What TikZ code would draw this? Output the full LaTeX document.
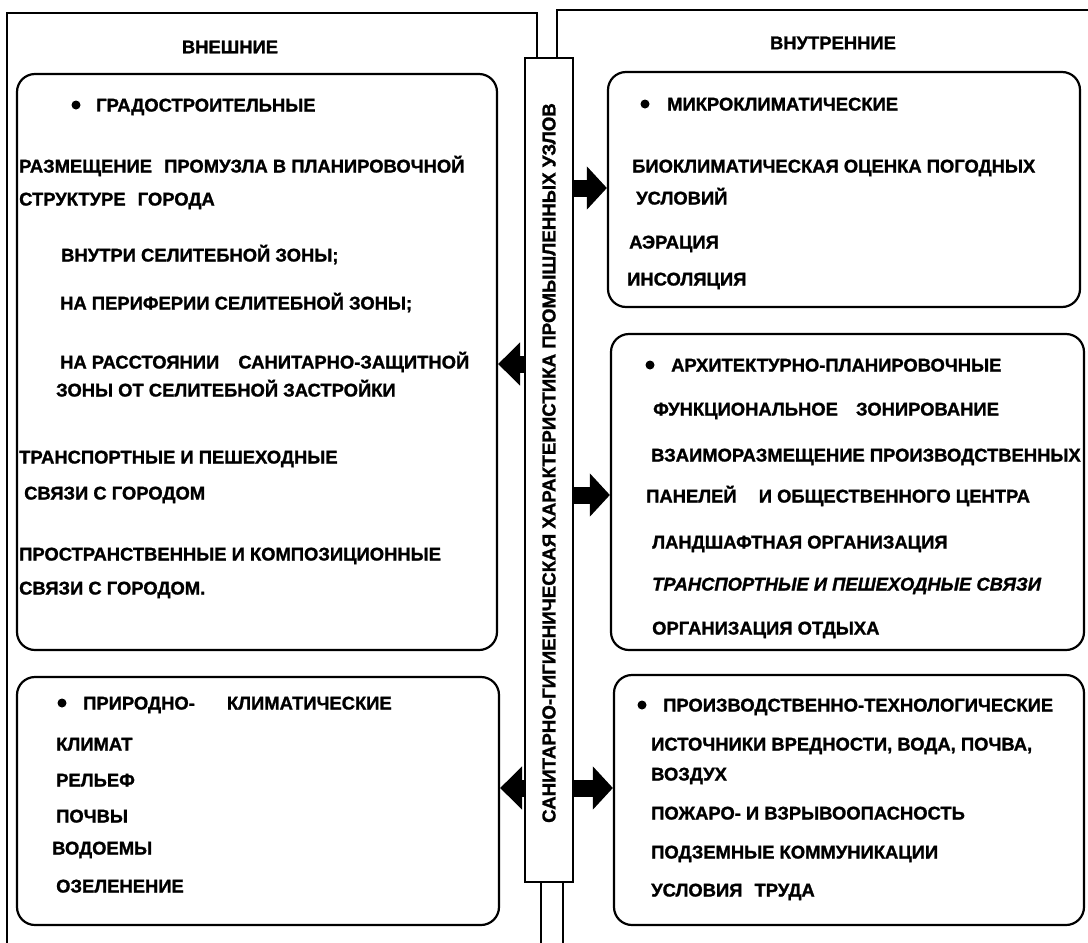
\documentclass[tikz,border=0pt]{standalone}
\usepackage{fontspec}
\setmainfont{Liberation Sans}[BoldFeatures={FakeBold=1.3},BoldItalicFeatures={FakeBold=1.3}]
\usetikzlibrary{arrows.meta}
\newcommand\tline[4]{\node[txt] (#1) at (#2,#3+6.5) {#4};}
\begin{document}
\begin{tikzpicture}[x=1pt,y=-1pt,
  frame/.style={line width=2pt, line join=miter},
  box/.style={draw, line width=2.2pt, rounded corners=18pt, inner sep=0pt},
  colbox/.style={draw, line width=2.6pt, inner sep=0pt},
  txt/.style={anchor=base west, inner sep=0pt, font=\fontsize{18.4}{20}\selectfont\bfseries},
  ttl/.style={anchor=center, inner sep=0pt, font=\fontsize{18.4}{20}\selectfont\bfseries},
  dot/.style={circle, fill, inner sep=0pt, minimum size=9pt},
  blk/.style={line width=17pt, line cap=butt, -{Triangle[length=20pt 0 0, width=42pt 0 0]}},
  blkl/.style={line width=17pt, line cap=butt, -{Triangle[length=22pt 0 0, width=42pt 0 0]}}
]
\useasboundingbox (0,0) rectangle (1088,943);

% outer frames
\draw[frame] (7,943) -- (7,13) -- (537,13) -- (537,58);
\draw[frame] (557,58) -- (557,10) -- (1088,10);
\draw[frame] (541,882) -- (541,943);
\draw[frame] (563,882) -- (563,943);

% central column
\node[colbox, minimum width=48pt, minimum height=824pt] (col) at (549,470) {};
\node[ttl, rotate=90, font=\fontsize{18.7}{20}\selectfont\bfseries] (coltext) at (549,463)
  {САНИТАРНО-ГИГИЕНИЧЕСКАЯ ХАРАКТЕРИСТИКА ПРОМЫШЛЕННЫХ УЗЛОВ};

% titles
\node[ttl] (tout) at (230,47) {ВНЕШНИЕ};
\node[ttl] (tin) at (833,43) {ВНУТРЕННИЕ};

% boxes
\node[box, minimum width=480pt, minimum height=576pt] (L1) at (257,362) {};
\node[box, minimum width=482pt, minimum height=248pt] (L2) at (258,801) {};
\node[box, minimum width=472pt, minimum height=235pt] (R1) at (844,189.5) {};
\node[box, minimum width=473pt, minimum height=316pt] (R2) at (847.5,492) {};
\node[box, minimum width=470pt, minimum height=250pt] (R3) at (849,800) {};

% arrows
\coordinate (a1) at (0,188);
\coordinate (a2) at (0,495);
\coordinate (a3) at (0,788);
\coordinate (a4) at (0,364);
\coordinate (a5) at (0,788);
\draw[blk] (col.east |- a1) -- (R1.west |- a1);
\draw[blk] (col.east |- a2) -- (R2.west |- a2);
\draw[blk] (col.east |- a3) -- (R3.west |- a3);
\draw[blkl] (col.west |- a4) -- (L1.east |- a4);
\draw[blkl] (col.west |- a5) -- (L2.east |- a5);

% L1 content
\node[dot] (d1) at (76,105) {};
\tline{l1h}{96}{105}{ГРАДОСТРОИТЕЛЬНЫЕ}
\tline{l1a}{19}{166}{РАЗМЕЩЕНИЕ\hspace{7pt} ПРОМУЗЛА В ПЛАНИРОВОЧНОЙ}
\tline{l1b}{19}{199}{СТРУКТУРЕ\hspace{7pt} ГОРОДА}
\tline{l1c}{61}{255}{ВНУТРИ СЕЛИТЕБНОЙ ЗОНЫ;}
\tline{l1d}{60}{303}{НА ПЕРИФЕРИИ СЕЛИТЕБНОЙ ЗОНЫ;}
\tline{l1e}{60}{362}{НА РАССТОЯНИИ\hspace{14pt} САНИТАРНО-ЗАЩИТНОЙ}
\tline{l1f}{56}{390}{ЗОНЫ ОТ СЕЛИТЕБНОЙ ЗАСТРОЙКИ}
\tline{l1g}{19}{457}{ТРАНСПОРТНЫЕ И ПЕШЕХОДНЫЕ}
\tline{l1i}{24}{493}{СВЯЗИ С ГОРОДОМ}
\tline{l1j}{19}{554}{ПРОСТРАНСТВЕННЫЕ И КОМПОЗИЦИОННЫЕ}
\tline{l1k}{19}{588}{СВЯЗИ С ГОРОДОМ.}

% L2 content
\node[dot] (d2) at (62,703) {};
\tline{l2h}{83}{703}{ПРИРОДНО-\hspace{27pt} КЛИМАТИЧЕСКИЕ}
\tline{l2a}{56}{744}{КЛИМАТ}
\tline{l2b}{56}{780}{РЕЛЬЕФ}
\tline{l2c}{56}{816}{ПОЧВЫ}
\tline{l2d}{52}{848}{ВОДОЕМЫ}
\tline{l2e}{56}{886}{ОЗЕЛЕНЕНИЕ}

% R1 content
\node[dot] (d3) at (645,104) {};
\tline{r1h}{667}{104}{МИКРОКЛИМАТИЧЕСКИЕ}
\tline{r1a}{632}{166}{БИОКЛИМАТИЧЕСКАЯ ОЦЕНКА ПОГОДНЫХ}
\tline{r1b}{636}{198}{УСЛОВИЙ}
\tline{r1c}{629}{242}{АЭРАЦИЯ}
\tline{r1d}{627}{279}{ИНСОЛЯЦИЯ}

% R2 content
\node[dot] (d4) at (650,365) {};
\tline{r2h}{671}{365}{АРХИТЕКТУРНО-ПЛАНИРОВОЧНЫЕ}
\tline{r2a}{653}{409}{ФУНКЦИОНАЛЬНОЕ\hspace{13pt} ЗОНИРОВАНИЕ}
\tline{r2b}{651}{455}{ВЗАИМОРАЗМЕЩЕНИЕ ПРОИЗВОДСТВЕННЫХ}
\tline{r2c}{646}{496}{ПАНЕЛЕЙ\hspace{17pt} И ОБЩЕСТВЕННОГО ЦЕНТРА}
\tline{r2d}{652}{542}{ЛАНДШАФТНАЯ ОРГАНИЗАЦИЯ}
\tline{r2e}{652}{584}{\itshape ТРАНСПОРТНЫЕ И ПЕШЕХОДНЫЕ СВЯЗИ}
\tline{r2f}{652}{628}{ОРГАНИЗАЦИЯ ОТДЫХА}

% R3 content
\node[dot] (d5) at (642,705) {};
\tline{r3h}{663}{705}{ПРОИЗВОДСТВЕННО-ТЕХНОЛОГИЧЕСКИЕ}
\tline{r3a}{651}{744}{ИСТОЧНИКИ ВРЕДНОСТИ, ВОДА, ПОЧВА,}
\tline{r3b}{651}{774}{ВОЗДУХ}
\tline{r3c}{651}{813}{ПОЖАРО- И ВЗРЫВООПАСНОСТЬ}
\tline{r3d}{651}{852}{ПОДЗЕМНЫЕ КОММУНИКАЦИИ}
\tline{r3e}{651}{890}{УСЛОВИЯ\hspace{7pt} ТРУДА}
\end{tikzpicture}
\end{document}
